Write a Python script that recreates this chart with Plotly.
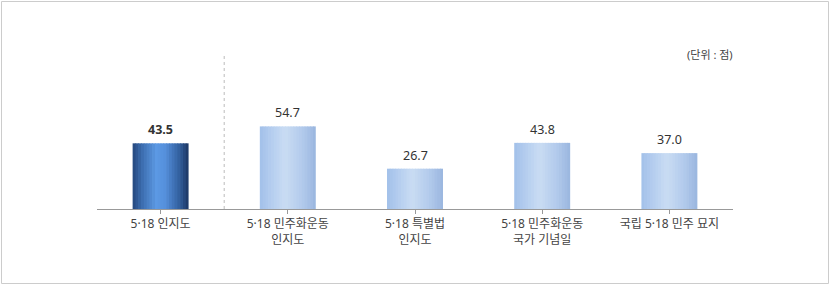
import plotly.graph_objects as go

categories = ["5·18 인지도", "5·18 민주화운동<br>인지도", "5·18 특별법<br>인지도",
              "5·18 민주화운동<br>국가 기념일", "국립 5·18 민주 묘지"]
values = [43.5, 54.7, 26.7, 43.8, 37.0]
value_labels = ["43.5", "54.7", "26.7", "43.8", "37.0"]
highlight = [True, False, False, False, False]
unit_text = "(단위 : 점)"

FONT = "Noto Sans, Noto Sans CJK KR, sans-serif"
BAR_W = 0.44
N = 20

dark_stops = [(0.0, (0x24, 0x47, 0x7c)), (0.15, (0x3a, 0x6a, 0xab)), (0.42, (0x5c, 0x99, 0xe4)),
              (0.58, (0x55, 0x90, 0xdc)), (0.82, (0x34, 0x62, 0xa2)), (1.0, (0x1c, 0x36, 0x62))]
light_stops = [(0.0, (0xa2, 0xc0, 0xe9)), (0.2, (0xb4, 0xcd, 0xef)), (0.45, (0xc9, 0xdc, 0xf3)),
               (0.75, (0xb3, 0xcb, 0xec)), (1.0, (0x9a, 0xb6, 0xdf))]


def grad(stops, t):
    for (t0, c0), (t1, c1) in zip(stops, stops[1:]):
        if t <= t1:
            f = (t - t0) / (t1 - t0) if t1 > t0 else 0
            return "rgb(%d,%d,%d)" % tuple(round(a + (b - a) * f) for a, b in zip(c0, c1))
    return "rgb(%d,%d,%d)" % stops[-1][1]


fig = go.Figure()
xs = list(range(len(categories)))
for i in range(N):
    t = (i + 0.5) / N
    cols = [grad(dark_stops if h else light_stops, t) for h in highlight]
    w = BAR_W / N
    fig.add_trace(go.Bar(
        x=xs, y=values, offset=-BAR_W / 2 + i * w,
        width=w * (1.25 if i < N - 1 else 1.0),
        marker=dict(color=cols, line=dict(width=0)),
        hoverinfo="skip", showlegend=False,
    ))

for x, v, lab, h in zip(xs, values, value_labels, highlight):
    fig.add_annotation(x=x, y=v, text=("<b>%s</b>" % lab) if h else lab, showarrow=False,
                       yanchor="bottom", yshift=3,
                       font=dict(family=FONT, size=12.5, color="#333333"))

fig.add_annotation(xref="paper", yref="paper", x=1.003, y=1.02, text=unit_text,
                   showarrow=False, xanchor="right", yanchor="middle",
                   font=dict(family=FONT, size=11, color="#444444"))

# divider between first and other categories
fig.add_shape(type="line", xref="x", yref="paper", x0=0.5, x1=0.5, y0=0, y1=1.033,
              line=dict(color="#bbbbbb", width=1, dash="dot"))
# outer frame
fig.add_shape(type="rect", xref="paper", yref="paper",
              x0=(1.5 - 97) / 636, x1=(828.5 - 97) / 636,
              y0=(209 - 283.5) / 151, y1=(209 - 1.5) / 151,
              line=dict(color="#cccccc", width=1))

fig.update_layout(
    width=830, height=296,
    margin=dict(l=97, r=97, t=58, b=87),
    paper_bgcolor="white", plot_bgcolor="white",
    barmode="overlay",
    font=dict(family=FONT, size=12, color="#444444"),
    xaxis=dict(tickmode="array", tickvals=xs, ticktext=categories,
               range=[-0.5, len(categories) - 0.5],
               showline=True, linecolor="#999999", linewidth=1,
               ticks="outside", tickson="boundaries", ticklen=4, tickcolor="#999999",
               showgrid=False, zeroline=False,
               tickfont=dict(family=FONT, size=12, color="#444444")),
    yaxis=dict(range=[0, 100], visible=False, showgrid=False, zeroline=False),
)

fig.write_html("out.html")
